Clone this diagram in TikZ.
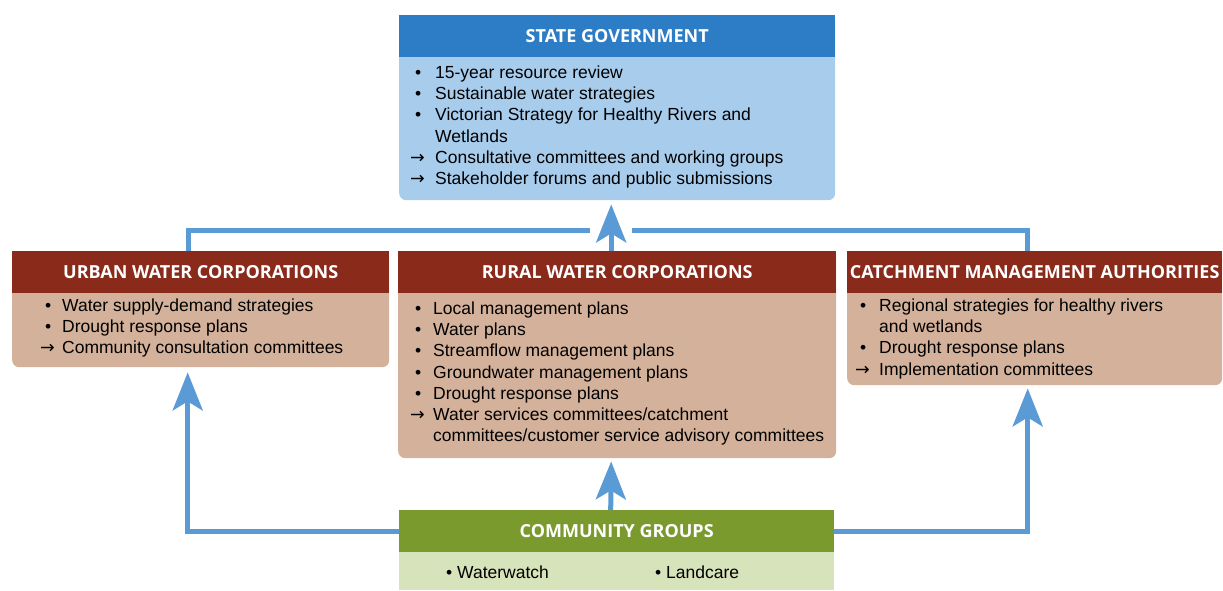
\documentclass[tikz,border=0pt]{standalone}
\usepackage{fontspec}
\usepackage{array}
\setmainfont{Liberation Sans}
\newfontfamily\headfont{Open Sans}
\newfontfamily\arrowfont{DejaVu Sans}
\usetikzlibrary{arrows.meta}
\definecolor{govblue}{HTML}{2D7DC6}
\definecolor{govlight}{HTML}{A8CCEC}
\definecolor{corpred}{HTML}{8A2A1B}
\definecolor{corptan}{HTML}{D4B19A}
\definecolor{commgreen}{HTML}{7A9A2E}
\definecolor{commlight}{HTML}{D7E3BA}
\definecolor{flowblue}{HTML}{5B9BD5}
\newcommand{\blt}{\hspace*{5pt}\textbullet}
\newcommand{\arw}{{\arrowfont →}}
\begin{document}
\begin{tikzpicture}[x=1pt, y=-1pt,
  boxbody/.style={fill=#1, rounded corners=7pt, anchor=north west, inner sep=0pt},
  boxhead/.style={fill=#1, text=white, anchor=north west, inner sep=0pt, minimum height=42pt,
    font=\headfont\bfseries\fontsize{18}{20}\selectfont},
  listtext/.style={anchor=north west, inner sep=0pt, font=\fontsize{17.5}{21.3}\selectfont},
  link/.style={line width=5pt, draw=flowblue},
  flow/.style={link, -{Stealth[length=38pt, width=30pt, inset=9pt]}}]
  \useasboundingbox (0,0) rectangle (1223,591);

  % state government
  \node[boxbody=govlight, minimum width=436pt, minimum height=185pt] (state) at (399,15) {};
  \node[boxhead=govblue, minimum width=436pt] (statehead) at (399,15) {STATE GOVERNMENT};
  \node[listtext] (statelist) at (410,63) {%
    \begin{tabular}{@{}p{25pt}@{}l@{}}
      \blt & 15-year resource review\\
      \blt & Sustainable water strategies\\
      \blt & Victorian Strategy for Healthy Rivers and\\
           & Wetlands\\
      \arw & Consultative committees and working groups\\
      \arw & Stakeholder forums and public submissions
    \end{tabular}};

  % urban water corporations
  \node[boxbody=corptan, minimum width=377pt, minimum height=116pt] (urban) at (12,251) {};
  \node[boxhead=corpred, minimum width=377pt] (urbanhead) at (12,251) {URBAN WATER CORPORATIONS};
  \node[listtext] (urbanlist) at (40,296) {%
    \begin{tabular}{@{}p{22pt}@{}l@{}}
      \blt & Water supply-demand strategies\\
      \blt & Drought response plans\\
      \arw & Community consultation committees
    \end{tabular}};

  % rural water corporations
  \node[boxbody=corptan, minimum width=438pt, minimum height=207pt] (rural) at (398,251) {};
  \node[boxhead=corpred, minimum width=438pt] (ruralhead) at (398,251) {RURAL WATER CORPORATIONS};
  \node[listtext] (rurallist) at (410,299) {%
    \begin{tabular}{@{}p{23pt}@{}l@{}}
      \blt & Local management plans\\
      \blt & Water plans\\
      \blt & Streamflow management plans\\
      \blt & Groundwater management plans\\
      \blt & Drought response plans\\
      \arw & Water services committees/catchment\\
           & committees/customer service advisory committees
    \end{tabular}};

  % catchment management authorities
  \node[boxbody=corptan, minimum width=375pt, minimum height=134pt] (cma) at (847,251) {};
  \node[boxhead=corpred, minimum width=375pt] (cmahead) at (847,251) {CATCHMENT MANAGEMENT AUTHORITIES};
  \node[listtext] (cmalist) at (855,296) {%
    \begin{tabular}{@{}p{24pt}@{}l@{}}
      \blt & Regional strategies for healthy rivers\\
           & and wetlands\\
      \blt & Drought response plans\\
      \arw & Implementation committees
    \end{tabular}};

  % community groups
  \node[boxbody=commlight, rounded corners=0pt, minimum width=435pt, minimum height=80pt] (community) at (399,510) {};
  \node[boxhead=commgreen, minimum width=435pt] (communityhead) at (399,510) {COMMUNITY GROUPS};
  \node[listtext, anchor=west] (waterwatch) at (446,572) {\textbullet\ Waterwatch};
  \node[listtext, anchor=west] (landcare) at (655,572) {\textbullet\ Landcare};

  % connectors
  \coordinate (joinL) at (590,230);
  \coordinate (joinR) at (632,230);
  \draw[link] ([xshift=-12pt]urban.north) |- (joinL);
  \draw[link] ([xshift=-7pt]cma.north) |- (joinR);
  \draw[flow, shorten >=4pt] ([xshift=-6pt]rural.north) -- ([xshift=-6pt]state.south);
  \draw[flow, shorten >=3pt] ([xshift=-6pt]community.north) -- ([xshift=-6pt]rural.south);
  \draw[flow, shorten >=5pt] (communityhead.west) -| ([xshift=-13pt]urban.south);
  \draw[flow, shorten >=3pt] (communityhead.east) -| ([xshift=-7pt]cma.south);
\end{tikzpicture}
\end{document}
